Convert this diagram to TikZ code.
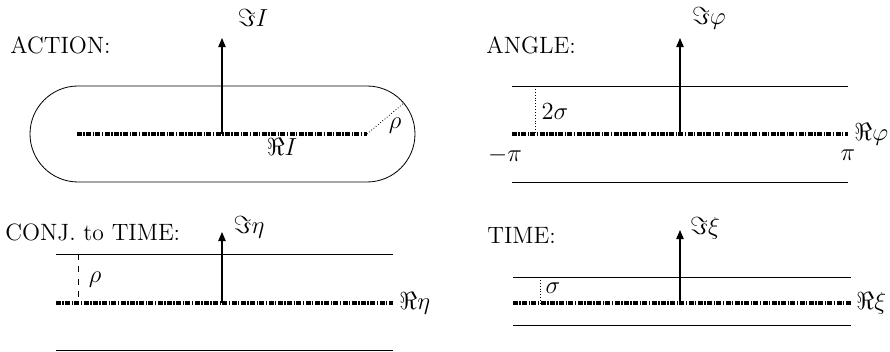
\documentclass[tikz,border=0pt]{standalone}
\usepackage{amsmath,amssymb}
\usetikzlibrary{arrows.meta,positioning,calc}

\begin{document}
\begin{tikzpicture}[
  x=0.0171cm, y=0.0171cm,
  every node/.style={font=\fontsize{11.5pt}{13pt}\selectfont},
  edge/.style={line width=0.4pt},
  realaxis/.style={line width=1.7pt, dash pattern=on 2.4pt off 0.7pt on 0.7pt off 0.7pt},
  imaxis/.style={line width=0.5pt, -{Triangle[length=4.4pt,width=3.6pt]}},
  title/.style={anchor=west, inner sep=0pt},
  lbl/.style={inner sep=1pt},
]
\useasboundingbox (0,0) rectangle (890,352);

% ACTION
\node[title] (actT) at (10,307) {ACTION:};
\draw[edge] (78,266) -- (367,266) arc[start angle=90, end angle=-90, radius=48]
  -- (78,170) arc[start angle=270, end angle=90, radius=48] -- cycle;
\coordinate (actL) at (77,218);
\coordinate (actR) at (367,218);
\coordinate (actO) at (222,218);
\coordinate (actTip) at (222,314);
\coordinate (actRho) at ($(actR)+(40:48)$);
\draw[realaxis] (actL) -- (actR);
\draw[imaxis] (actO) -- (actTip);
\draw[densely dotted, line width=0.4pt] (actR) -- (actRho);
\node[lbl] (actIm) at (253,334) {$\Im I$};
\node[lbl] (actRe) at (282,205) {$\Re I$};
\node[lbl] (actRhoL) at (395,226) {$\rho$};

% ANGLE
\node[title] (angT) at (486,307) {ANGLE:};
\draw[edge] (512,266) -- (848,266);
\draw[edge] (512,170) -- (848,170);
\coordinate (angL) at (512,218);
\coordinate (angR) at (848,218);
\coordinate (angO) at (680,218);
\coordinate (angTip) at (680,314);
\draw[realaxis] (angL) -- (angR);
\draw[imaxis] (angO) -- (angTip);
\draw[densely dotted, line width=0.4pt] (535,266) -- (535,218);
\node[lbl] (angIm) at (709,334) {$\Im\varphi$};
\node[lbl, anchor=west] (angRe) at (852,218) {$\Re\varphi$};
\node[lbl] (ang2s) at (555,240) {$2\sigma$};
\node[lbl] (angMpi) at (505,197) {$-\pi$};
\node[lbl] (angPi) at (848,197) {$\pi$};

% CONJ. to TIME
\node[title] (conT) at (5,120) {CONJ. to TIME:};
\draw[edge] (56,98) -- (393,98);
\draw[edge] (56,2) -- (393,2);
\coordinate (conL) at (56,49);
\coordinate (conR) at (393,49);
\coordinate (conO) at (222,49);
\coordinate (conTip) at (222,120);
\draw[realaxis] (conL) -- (conR);
\draw[imaxis] (conO) -- (conTip);
\draw[dashed, line width=0.4pt] (78,98) -- (78,49);
\node[lbl] (conIm) at (249,125) {$\Im\eta$};
\node[lbl, anchor=west] (conRe) at (397,49) {$\Re\eta$};
\node[lbl] (conRho) at (95,72) {$\rho$};

% TIME
\node[title] (timT) at (487,117) {TIME:};
\draw[edge] (513,75) -- (851,75);
\draw[edge] (513,27) -- (851,27);
\coordinate (timL) at (513,49);
\coordinate (timR) at (851,49);
\coordinate (timO) at (680,49);
\coordinate (timTip) at (680,122);
\draw[realaxis] (timL) -- (timR);
\draw[imaxis] (timO) -- (timTip);
\draw[densely dotted, line width=0.4pt] (540,75) -- (540,49);
\node[lbl] (timIm) at (705,124) {$\Im\xi$};
\node[lbl, anchor=west] (timRe) at (854,49) {$\Re\xi$};
\node[lbl] (timSig) at (553,64) {$\sigma$};
\end{tikzpicture}
\end{document}
